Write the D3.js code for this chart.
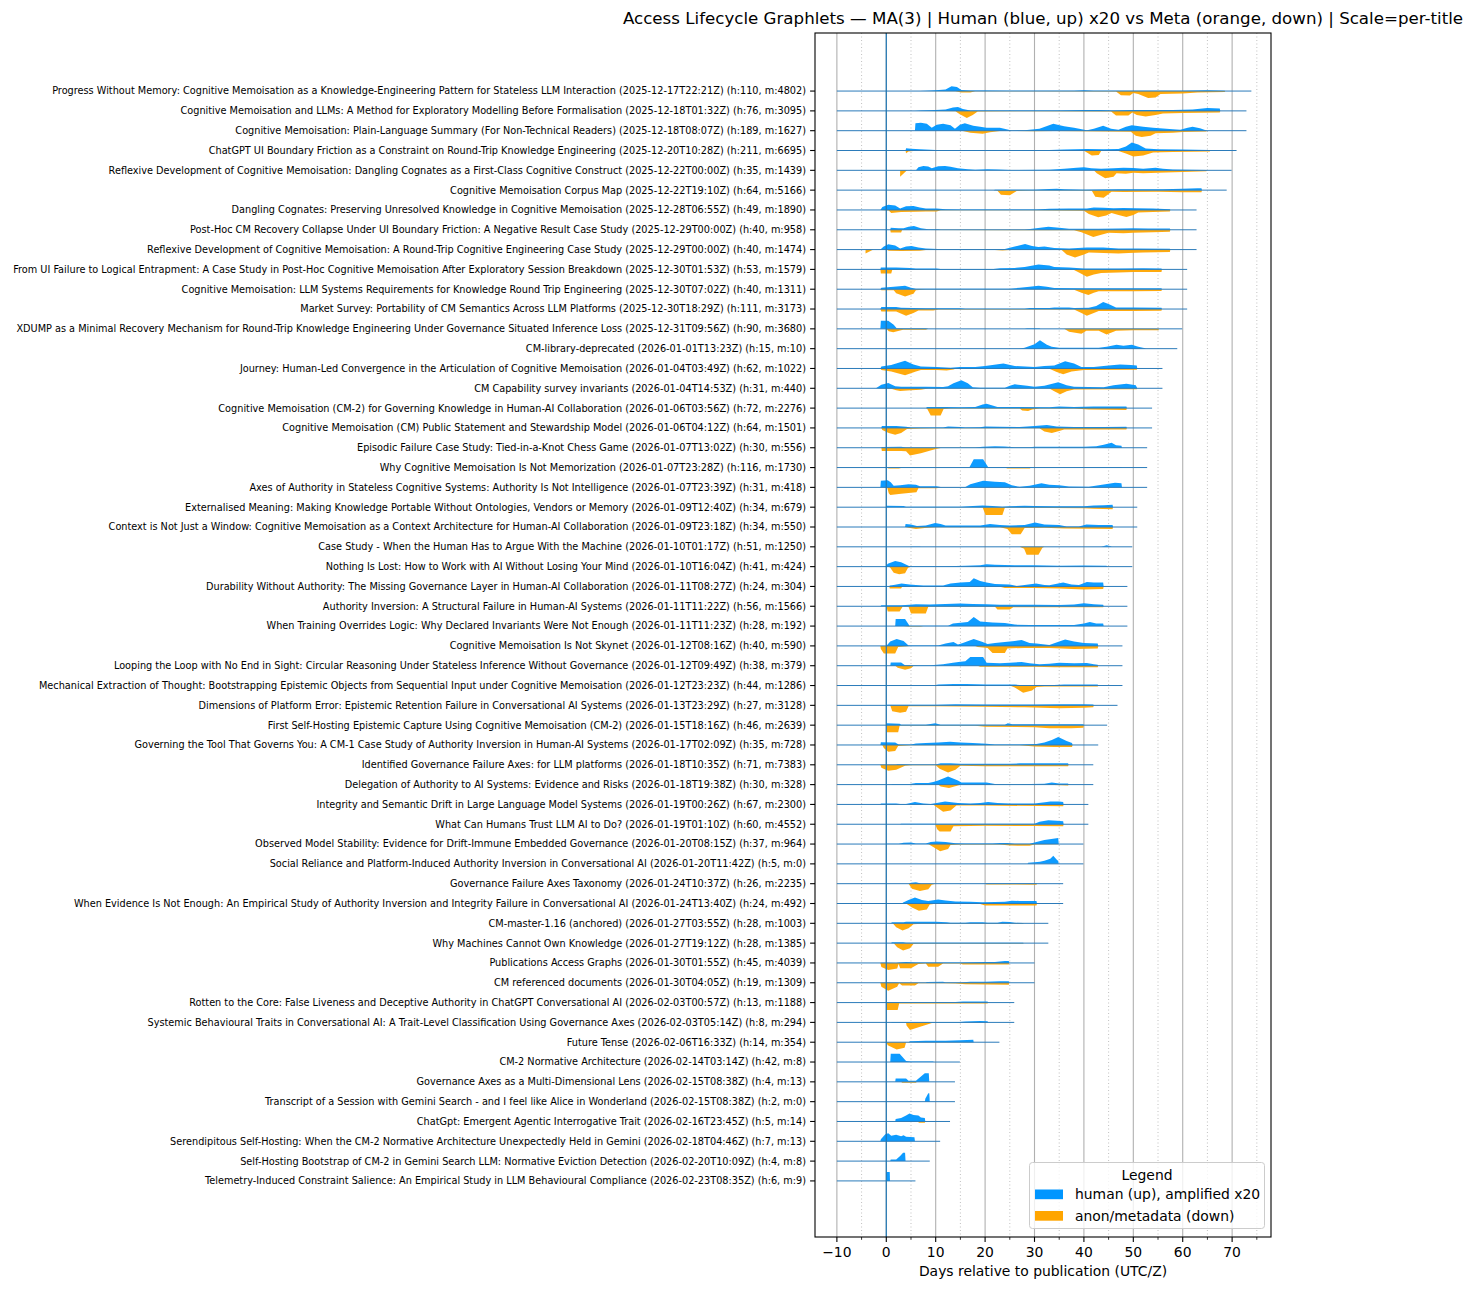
<!DOCTYPE html>
<html><head><meta charset="utf-8">
<script src="https://cdn.jsdelivr.net/npm/d3@7"></script>
<style>
body{margin:0;background:#fff}
svg{display:block}
text{font-family:"DejaVu Sans",sans-serif;fill:#000}
</style>
</head><body>
<svg id="c" width="1472" height="1289"></svg>
<script>
const chartTitle = "Access Lifecycle Graphlets — MA(3) | Human (blue, up) x20 vs Meta (orange, down) | Scale=per-title";
const xLabel = "Days relative to publication (UTC/Z)";
const legendTitle = "Legend";
const seriesNames = ["human (up), amplified x20", "anon/metadata (down)"];
const seriesColors = ["#0096ff", "#ffa500"];
const xTicks = [-10, 0, 10, 20, 30, 40, 50, 60, 70];
const xMinorTicks = [-5, 5, 15, 25, 35, 45, 55, 65, 75];

const titles = [
"Progress Without Memory: Cognitive Memoisation as a Knowledge-Engineering Pattern for Stateless LLM Interaction (2025-12-17T22:21Z) (h:110, m:4802)",
"Cognitive Memoisation and LLMs: A Method for Exploratory Modelling Before Formalisation (2025-12-18T01:32Z) (h:76, m:3095)",
"Cognitive Memoisation: Plain-Language Summary (For Non-Technical Readers) (2025-12-18T08:07Z) (h:189, m:1627)",
"ChatGPT UI Boundary Friction as a Constraint on Round-Trip Knowledge Engineering (2025-12-20T10:28Z) (h:211, m:6695)",
"Reflexive Development of Cognitive Memoisation: Dangling Cognates as a First-Class Cognitive Construct (2025-12-22T00:00Z) (h:35, m:1439)",
"Cognitive Memoisation Corpus Map (2025-12-22T19:10Z) (h:64, m:5166)",
"Dangling Cognates: Preserving Unresolved Knowledge in Cognitive Memoisation (2025-12-28T06:55Z) (h:49, m:1890)",
"Post-Hoc CM Recovery Collapse Under UI Boundary Friction: A Negative Result Case Study (2025-12-29T00:00Z) (h:40, m:958)",
"Reflexive Development of Cognitive Memoisation: A Round-Trip Cognitive Engineering Case Study (2025-12-29T00:00Z) (h:40, m:1474)",
"From UI Failure to Logical Entrapment: A Case Study in Post-Hoc Cognitive Memoisation After Exploratory Session Breakdown (2025-12-30T01:53Z) (h:53, m:1579)",
"Cognitive Memoisation: LLM Systems Requirements for Knowledge Round Trip Engineering (2025-12-30T07:02Z) (h:40, m:1311)",
"Market Survey: Portability of CM Semantics Across LLM Platforms (2025-12-30T18:29Z) (h:111, m:3173)",
"XDUMP as a Minimal Recovery Mechanism for Round-Trip Knowledge Engineering Under Governance Situated Inference Loss (2025-12-31T09:56Z) (h:90, m:3680)",
"CM-library-deprecated (2026-01-01T13:23Z) (h:15, m:10)",
"Journey: Human-Led Convergence in the Articulation of Cognitive Memoisation (2026-01-04T03:49Z) (h:62, m:1022)",
"CM Capability survey invariants (2026-01-04T14:53Z) (h:31, m:440)",
"Cognitive Memoisation (CM-2) for Governing Knowledge in Human-AI Collaboration (2026-01-06T03:56Z) (h:72, m:2276)",
"Cognitive Memoisation (CM) Public Statement and Stewardship Model (2026-01-06T04:12Z) (h:64, m:1501)",
"Episodic Failure Case Study: Tied-in-a-Knot Chess Game (2026-01-07T13:02Z) (h:30, m:556)",
"Why Cognitive Memoisation Is Not Memorization (2026-01-07T23:28Z) (h:116, m:1730)",
"Axes of Authority in Stateless Cognitive Systems: Authority Is Not Intelligence (2026-01-07T23:39Z) (h:31, m:418)",
"Externalised Meaning: Making Knowledge Portable Without Ontologies, Vendors or Memory (2026-01-09T12:40Z) (h:34, m:679)",
"Context is Not Just a Window: Cognitive Memoisation as a Context Architecture for Human-AI Collaboration (2026-01-09T23:18Z) (h:34, m:550)",
"Case Study - When the Human Has to Argue With the Machine (2026-01-10T01:17Z) (h:51, m:1250)",
"Nothing Is Lost: How to Work with AI Without Losing Your Mind (2026-01-10T16:04Z) (h:41, m:424)",
"Durability Without Authority: The Missing Governance Layer in Human-AI Collaboration (2026-01-11T08:27Z) (h:24, m:304)",
"Authority Inversion: A Structural Failure in Human-AI Systems (2026-01-11T11:22Z) (h:56, m:1566)",
"When Training Overrides Logic: Why Declared Invariants Were Not Enough (2026-01-11T11:23Z) (h:28, m:192)",
"Cognitive Memoisation Is Not Skynet (2026-01-12T08:16Z) (h:40, m:590)",
"Looping the Loop with No End in Sight: Circular Reasoning Under Stateless Inference Without Governance (2026-01-12T09:49Z) (h:38, m:379)",
"Mechanical Extraction of Thought: Bootstrapping Epistemic Objects from Sequential Input under Cognitive Memoisation (2026-01-12T23:23Z) (h:44, m:1286)",
"Dimensions of Platform Error: Epistemic Retention Failure in Conversational AI Systems (2026-01-13T23:29Z) (h:27, m:3128)",
"First Self-Hosting Epistemic Capture Using Cognitive Memoisation (CM-2) (2026-01-15T18:16Z) (h:46, m:2639)",
"Governing the Tool That Governs You: A CM-1 Case Study of Authority Inversion in Human-AI Systems (2026-01-17T02:09Z) (h:35, m:728)",
"Identified Governance Failure Axes: for LLM platforms (2026-01-18T10:35Z) (h:71, m:7383)",
"Delegation of Authority to AI Systems: Evidence and Risks (2026-01-18T19:38Z) (h:30, m:328)",
"Integrity and Semantic Drift in Large Language Model Systems (2026-01-19T00:26Z) (h:67, m:2300)",
"What Can Humans Trust LLM AI to Do? (2026-01-19T01:10Z) (h:60, m:4552)",
"Observed Model Stability: Evidence for Drift-Immune Embedded Governance (2026-01-20T08:15Z) (h:37, m:964)",
"Social Reliance and Platform-Induced Authority Inversion in Conversational AI (2026-01-20T11:42Z) (h:5, m:0)",
"Governance Failure Axes Taxonomy (2026-01-24T10:37Z) (h:26, m:2235)",
"When Evidence Is Not Enough: An Empirical Study of Authority Inversion and Integrity Failure in Conversational AI (2026-01-24T13:40Z) (h:24, m:492)",
"CM-master-1.16 (anchored) (2026-01-27T03:55Z) (h:28, m:1003)",
"Why Machines Cannot Own Knowledge (2026-01-27T19:12Z) (h:28, m:1385)",
"Publications Access Graphs (2026-01-30T01:55Z) (h:45, m:4039)",
"CM referenced documents (2026-01-30T04:05Z) (h:19, m:1309)",
"Rotten to the Core: False Liveness and Deceptive Authority in ChatGPT Conversational AI (2026-02-03T00:57Z) (h:13, m:1188)",
"Systemic Behavioural Traits in Conversational AI: A Trait-Level Classification Using Governance Axes (2026-02-03T05:14Z) (h:8, m:294)",
"Future Tense (2026-02-06T16:33Z) (h:14, m:354)",
"CM-2 Normative Architecture (2026-02-14T03:14Z) (h:42, m:8)",
"Governance Axes as a Multi-Dimensional Lens (2026-02-15T08:38Z) (h:4, m:13)",
"Transcript of a Session with Gemini Search - and I feel like Alice in Wonderland (2026-02-15T08:38Z) (h:2, m:0)",
"ChatGpt: Emergent Agentic Interrogative Trait (2026-02-16T23:45Z) (h:5, m:14)",
"Serendipitous Self-Hosting: When the CM-2 Normative Architecture Unexpectedly Held in Gemini (2026-02-18T04:46Z) (h:7, m:13)",
"Self-Hosting Bootstrap of CM-2 in Gemini Search LLM: Normative Eviction Detection (2026-02-20T10:09Z) (h:4, m:8)",
"Telemetry-Induced Constraint Salience: An Empirical Study in LLM Behavioural Compliance (2026-02-23T08:35Z) (h:6, m:9)"
];

const lineStart = -10;
const lineEnd = [73.9,72.9,72.9,70.9,69.9,68.9,62.8,62.8,62.8,60.9,60.9,60.9,59.9,58.9,55.9,55.9,53.8,53.8,52.8,52.8,52.8,50.8,50.8,49.8,49.8,48.8,48.8,48.8,47.8,47.8,47.8,46.8,44.7,42.9,41.9,41.9,40.9,40.9,39.9,39.9,35.8,35.8,32.8,32.8,30,30,25.9,25.9,22.9,14.9,13.9,13.9,12.9,10.9,8.8,5.9];

// human (up) smoothed level per title, [day, level]
const human = [
[[6.8,0],[8,0.3],[10,0.8],[12,1.5],[13.2,4.8],[14.3,4],[15.2,1],[17,0.5],[20,0.6],[25,0.3],[30,0.3],[38,0.4],[40,0.8],[42,0.4],[50,0.3],[60,0.4],[65,0.8],[68.5,0.3],[68.6,0]],
[[5.8,0],[7,0.5],[10,1],[12,1.5],[13.5,3.5],[14.5,4],[15.5,2],[17,0.5],[25,0.4],[35,0.3],[40,0.8],[43,1],[46,0.5],[50,0.8],[54,1],[58,0.8],[62,1.5],[65,3],[67.5,2.5],[67.6,0]],
[[5.8,0],[5.9,7.5],[7,8],[8.2,7],[9.2,3],[10.2,6],[11.5,7],[13,5.5],[13.9,2],[14.9,6],[15.9,7.5],[17.6,5],[19,4],[20.3,3],[23,3],[25.4,0.3],[28,0.5],[31,2],[33.8,7],[36,4.5],[38,3],[40.6,0.5],[42,2],[43.9,5],[45.5,2],[47,1],[48.5,4],[49.7,5.5],[52,4],[54,3],[56,2.2],[58,1.5],[59.5,1],[61,3],[62,4],[63.5,2.5],[64.8,0.3],[64.9,0]],
[[3.9,0],[4,2.3],[5,1.8],[6.8,1.2],[10,0.5],[20,0.3],[25,0.5],[33,0.5],[36,1],[40.6,1.5],[44,1.3],[47,1.5],[48.5,4],[49.7,8],[51,6],[52.5,2],[55,1.2],[60,1],[65.5,0.6],[65.6,0]],
[[6,0],[6.5,3],[7.5,4.3],[8.5,3.8],[9.2,2],[10.5,4],[11.9,4.3],[13,3.5],[14.5,2],[16.5,1],[18,0.6],[20.5,1],[22.5,0.8],[25,0.4],[33,0.5],[36,1.5],[38.5,2.5],[40,3],[41.5,2],[43.5,1.5],[46,2],[48,2.5],[50,2.3],[52,1.5],[54.5,2.5],[56,1.5],[58,0.7],[64.8,0.3],[64.9,0]],
[[21.7,0],[22,0.3],[30,0.5],[33,1.2],[34.5,1.5],[36,0.8],[40,0.3],[47,0.8],[52,1],[56,1],[60,1.5],[63,2],[63.8,2],[63.9,0]],
[[-1.2,0],[-0.8,3],[0.4,5.3],[1.8,4.5],[2.8,1.5],[4,3.8],[5.5,4],[6.8,2.5],[8,1.5],[10.2,1.5],[12,0.8],[15,0.5],[25,0.5],[30.4,0.5],[33,1.3],[37,1.5],[40.6,1.5],[42,2.5],[44,2.2],[46,1.8],[48,2],[50.7,1.8],[54,1.5],[57.4,0.8],[57.5,0]],
[[0.8,0],[0.9,2],[2.5,1.5],[3.5,1.5],[4.5,3],[5.6,3.7],[7,1.5],[8.5,0.6],[10.5,0.5],[11,0],[28,0],[29.5,1],[32.8,3],[35,2],[37,1],[43,1],[47,1.2],[50,1.5],[53,1.2],[57.4,1.2],[57.5,0]],
[[-1.2,0],[-0.5,3],[0.4,5.3],[1.8,4],[2.8,1.2],[4,3],[5.1,3.5],[6.5,2],[8,1],[10.5,0.5],[12,0.3],[16,0.6],[18,0.3],[24,0.5],[26,3],[28.1,5.7],[29.5,3.5],[30.8,2.5],[32,3],[34,1.5],[37,1],[40.6,2],[43.9,2],[47,1.2],[50.7,1],[57.4,0.8],[57.5,0]],
[[-1.2,0],[-1.1,1.8],[2,2],[4.8,1.5],[6,1],[10.2,1],[11,0.3],[21.7,0.3],[23,1.2],[26,1.5],[28,2.5],[30.8,5],[33,4],[34,2.5],[37,2],[40,1],[47,1],[52,1.2],[55.7,1],[55.8,0]],
[[-1.2,0],[-1,1.5],[1.5,2.5],[3.8,3.5],[5,1.5],[6,0.5],[15,0.5],[25,0.5],[27,1.5],[29,2.5],[30.8,3.5],[32.5,2.5],[34,1.2],[40,1],[50,1],[55.7,1],[55.8,0]],
[[-1.2,0],[-1,2],[2,2],[3,1.2],[8,0.8],[15,0.8],[16,0.3],[28,0.3],[29,1],[33,1],[34,1.5],[37,1.5],[38,1],[41,1.2],[42.5,3],[43.9,7],[45,5],[46.5,1.5],[50,1.5],[55.7,1.2],[55.8,0]],
[[-1.2,0],[-1.1,8],[0.4,8],[1.5,4],[2.1,0.5],[8,0.5],[8.5,0],[28,0],[28.5,0.5],[31,0.5],[31.2,0]],
[[26.9,0],[28,1],[30,4.5],[31.1,8.5],[32.5,4],[33.5,2],[35,1],[40,1],[43,0.8],[44.6,2],[46.6,4],[48,3],[49.7,4],[51,2],[52.4,0.3],[52.5,0]],
[[-1.2,0],[-1,2],[1,3.5],[3.8,7.7],[5.5,4],[7,2],[10.2,1.5],[13,0.8],[14.9,1.5],[18,1.5],[20,2.5],[23.7,5],[26,2.5],[30,1.5],[32,2.5],[34,3],[36.2,7.3],[38,5],[39.5,1.5],[42,1.5],[45,3],[47.3,4],[49.5,3.5],[50.7,3],[50.8,0]],
[[-2.1,0],[-1,3.5],[0.4,5.3],[1.8,2],[3,1.5],[8,1.5],[11.5,1.2],[12.5,2],[13.6,5],[15.2,8],[16.5,5],[17.5,1],[19,0.5],[24,0.5],[25,2.5],[26,4],[28.5,2.5],[30,1.5],[32,2.5],[34.8,6],[36.5,3],[38,1.5],[44,1],[46,3],[48.6,4.5],[50.5,3],[50.8,0]],
[[8,0],[8.3,1],[12,1],[15,0.8],[18,1.2],[19.5,3.5],[20.3,4.3],[21.5,2.5],[22.5,1],[27,1],[33,0.8],[35,1.5],[38,1],[42,1.5],[48.6,1.5],[48.7,0]],
[[-1,0],[-0.9,2],[2,2],[4,1.2],[5,0.5],[11.5,0.5],[12.5,1.5],[15,1],[16,0.5],[19,0.6],[20,1.5],[23,1.2],[27,1],[30,2],[32.5,3],[34.5,1.5],[38,1],[44,1],[48.6,1.2],[48.7,0]],
[[-1,0],[-0.9,0.8],[3,1],[4,0.3],[18,0.3],[19.5,1],[22,1.5],[24,1.2],[26,0.5],[29,0.5],[30,1],[40,1],[42.5,1.5],[44,3],[45.6,5],[46.5,2.5],[47.6,2],[47.7,0]],
[[0,0],[1,0.5],[6.8,0.5],[7,0],[16.8,0],[17.7,8.3],[19.6,8.3],[20.6,0.5],[30,0.5],[33,0.3],[43,0.5],[47.6,0.5],[47.7,0]],
[[-1.2,0],[-1.1,6.5],[0.3,7],[0.9,5],[1.5,1.5],[2.8,2],[4.5,3],[6,2.5],[6.8,1],[10.2,1],[11,0.3],[16,0.3],[17,3],[19.6,6.7],[22,5.5],[24,5],[25.4,2],[27,0.5],[29,1.5],[31.4,4.2],[33,2.5],[35,2],[37,0.8],[41,0.5],[43,2],[46.3,4.7],[47.6,4],[47.7,0]],
[[0,0],[0.1,1.5],[3.5,1.3],[4,0.5],[15,0.5],[17.5,1.2],[19.5,1.7],[21.5,1.2],[23.5,0.5],[25,1],[28,1.5],[30,1.2],[34,1],[40,1],[42,1.8],[44,2],[45.8,2.5],[45.9,0]],
[[3.8,0],[3.9,3],[5,2.5],[6.2,1],[8,1.5],[9.9,4],[11,3],[12,1.5],[19,1.5],[21,3],[23,2],[25,1.5],[28,2],[30.1,4.5],[32,2.5],[35,2],[36.5,0.5],[39,0.5],[40.5,2.5],[43,2],[45.8,2],[45.9,0]],
[[4.8,0],[5,0.3],[6.8,0.3],[7,0],[43.5,0],[44.6,1.5],[45.5,0.5],[45.6,0]],
[[-0.2,0],[0.3,3],[1.8,5.7],[3,4.5],[4.7,0.5],[8,0.3],[12,0.5],[16,1],[19,1.5],[20.3,2.5],[22,1.8],[26,1.5],[30,1.5],[35,1],[40,1.2],[44.6,1],[44.7,0]],
[[0.6,0],[0.7,1],[1.5,1.5],[3.1,3],[4.7,2],[6,1.5],[7.5,1],[11.5,1],[13,3],[15,4],[16.9,4.5],[17.7,8.3],[19,5.5],[20.3,4],[22,2.5],[25,2],[26.4,0.5],[28,1.5],[30.3,3],[32,1.5],[33,1.2],[35.8,4],[37.5,2],[39,1.5],[40.6,4.5],[42,4],[43.9,4],[44,0]],
[[-1.2,0],[-1,1],[3,1],[4.7,1.5],[6,2],[8.8,1.8],[12,2.2],[14.9,2.8],[17.5,2.3],[20.3,2],[23,1.5],[27,1.5],[30,1.5],[35,1.2],[38,1.8],[40,3],[42,2],[43.9,1.5],[44,0]],
[[1.8,0],[1.9,7],[3.8,7],[4.7,0.3],[12.5,0.3],[13.5,2.5],[15.5,3.5],[16.5,4],[17.7,9],[19,4.5],[21.5,3.5],[24,3],[26,1.5],[29,1],[38,1],[40,2.5],[41.2,4],[42.5,2.5],[43.9,2.5],[44,0]],
[[0,0],[0.8,4.5],[2.1,7],[3.5,5],[4.5,0.5],[10.5,0.5],[12,2.5],[13.6,4],[14.5,1.5],[15.5,3],[17.7,7],[19.5,4],[20.5,2],[22,3],[24,4],[26,5],[27.4,6],[29,3],[30.4,2.5],[33,1],[35,4.5],[36.2,6.3],[38,4.5],[40,3],[42.8,2.5],[42.9,0]],
[[0.8,0],[0.9,3.3],[3,3.3],[3.5,1.5],[3.8,0.5],[9,0.5],[11.5,1.5],[13.5,3],[15,4],[16,4.5],[17,8.7],[19.6,8.7],[20.3,3],[23,2.5],[25,3],[27.4,3.8],[29,2.5],[31,1.5],[33,2],[35,3],[38,2.5],[40.6,2.8],[42,1.5],[42.8,1],[42.9,0]],
[[0.8,0],[1,0.5],[3.4,0.5],[3.5,0],[9.5,0],[10.5,1],[13.6,1.5],[16.2,1.5],[20.3,1],[26,1],[27,0.5],[34,0.5],[36,1],[42.8,1],[42.9,0]],
[[0,0],[0.2,0.5],[10,0.5],[14,1],[20,0.8],[30,0.8],[35,1],[40,1.2],[41.9,0.8],[42,0]],
[[0,0],[0.1,2],[2.7,1.5],[3,0.3],[8,0.3],[9.9,2],[11,0.5],[24,0.5],[24.6,2],[25.5,0.8],[35,1],[39.9,1],[40,0]],
[[-1.2,0],[-1.1,2.7],[1.8,2.5],[2.5,0.5],[5,0.5],[6,1.5],[8,2],[10.5,2.5],[12.9,3.3],[15,2.5],[17.5,2],[20.3,1.2],[22,0.5],[27,0.5],[30.4,1],[32,2.5],[33.5,5],[34.8,8],[36.5,4],[37.6,2],[37.7,0]],
[[2,0],[2.2,0.5],[4,0.5],[5,0.3],[10,0.3],[11,1.5],[13,1.5],[15,1],[25,1],[27,1.5],[36.8,1.5],[36.9,0]],
[[1,0],[1.2,0.5],[4.7,0.5],[6,1.5],[8.5,1.5],[9.5,2.5],[10.5,4],[12.5,8],[14.5,4],[15.2,2],[17,2],[20.3,2],[22,0.5],[25,0.3],[32,0.8],[33.5,2],[35,1],[36.8,1],[36.9,0]],
[[-1.2,0],[-1.1,1],[2,1],[2.8,0.5],[4,0.5],[5.8,2.5],[7.5,1],[9,0.5],[10.2,1.5],[11.9,3],[14.5,1.5],[17,1],[19,1.5],[20.6,2.5],[22.5,1.5],[25,1],[30,1],[32.5,2.5],[33.2,3],[35,2.8],[35.8,2.5],[35.9,0]],
[[2.7,0],[3,0.5],[30,0.5],[31,2.5],[32.8,4],[34.5,3.5],[35.8,3],[35.9,0]],
[[0,0],[0.2,0.3],[2.5,0.3],[3.5,1.2],[5,1.5],[6,0.5],[8,0.5],[9,2],[10.2,2.5],[12,2],[14,0.8],[16,0.5],[21.5,0.5],[23,1],[24.5,1],[26,0.3],[29,0.3],[30,1.5],[32,4],[34.8,6],[34.9,0]],
[[28.6,0],[28.7,1],[30,1.5],[31.1,2],[32,3],[33.2,5],[33.8,8],[34.6,3.5],[34.8,3],[34.9,0]],
[[4.5,0],[5,1],[6,1.5],[6.8,0.5],[7,0],[20,0],[20.3,0.5],[30.4,0.5],[30.5,0]],
[[3.2,0],[3.4,1],[4.5,3.5],[5.8,6],[7.2,3.5],[8.5,2.5],[10.5,4],[12,3],[14,2],[17,1.8],[19.5,1.2],[22,1.5],[24,1.8],[25.4,2.8],[27,2.5],[30.4,2.5],[30.5,0]],
[[1,0],[1.1,1],[3.5,1],[4,1.5],[8,1.5],[10,1.5],[12.2,1],[13,0.5],[16,0.5],[17,1],[19.5,1],[20.5,0.5],[22.5,0.5],[23.5,1.5],[25,1.2],[26,0.5],[27.7,0.3],[27.8,0]],
[[1,0],[1.1,1],[3.4,1],[4,0.5],[27.7,0.5],[27.8,0]],
[[-1.2,0],[-1.1,0.3],[0,0.3],[2,0],[2.7,0.5],[4,1],[6,0.5],[15,0.5],[20,1],[22,1],[23,1.5],[24,2],[24.8,2],[24.9,0]],
[[0,0],[0.2,0.3],[2,0.3],[2.5,0],[8,0],[8.2,0.8],[11.5,1],[12,0.3],[15,0.3],[17,1],[20,1],[23,1.5],[24.8,1.5],[24.9,0]],
[[0,0],[0.1,0.5],[14,0.5],[15.5,1],[20.5,1],[20.6,0]],
[[1,0],[1.1,0.5],[14.8,0.5],[16,1],[19,1.5],[20.5,1.2],[20.6,0]],
[[-1.2,0],[-1,0.3],[0,0.3],[0.5,0],[4.5,0],[4.8,1],[8,1.5],[12,1.5],[15,2],[17.6,2.5],[17.7,0]],
[[0.8,0],[0.9,8.3],[2.7,8.3],[4,1],[5,0.5],[9.5,0.5],[9.6,0]],
[[1.8,0],[1.9,3.3],[4,3.3],[4.5,1],[6,1],[7.8,8.7],[8.6,8.7],[8.7,0]],
[[7.8,0],[7.9,3],[8.5,8.3],[8.7,8.3],[8.8,0]],
[[1.8,0],[1.9,2.5],[3,3.5],[4,6],[4.7,8],[5.5,6.5],[6.5,6],[7,4],[7.8,3.5],[7.9,0]],
[[-1.2,0],[-1.1,2],[-0.2,7],[0.4,8],[1,5.5],[2,6.5],[3,5],[3.5,6],[4,4.5],[5.7,4],[5.8,0]],
[[0.8,0],[0.9,1.5],[2,1.5],[2.8,5],[3.4,8.3],[3.8,8.3],[3.9,0]],
[[0,0],[0.05,9],[0.7,9],[0.75,0]]
];

// anon/metadata (down) smoothed level per title, [day, level]
const meta = [
[[6.8,0],[14,0.2],[15.2,1.5],[17,1.5],[18,0.2],[30,0.3],[46.5,0.5],[47.5,4.3],[49.3,4.5],[50,2],[51,3],[53,7],[54.5,6.5],[55.5,3],[60,2.5],[63,1.5],[68.5,1],[68.6,0]],
[[5.8,0],[14,0.3],[14.8,3],[16.3,7],[17.5,4],[18.5,0.5],[30,0.3],[45.5,0.5],[46.5,4.5],[49,4.5],[49.8,1.5],[50.7,4],[52.5,5.5],[54.5,4],[56,2.5],[60,2],[67.5,1.5],[67.6,0]],
[[5.9,0],[15.5,0.3],[17,2],[19.5,3],[21,1.5],[23,0.3],[30,0.5],[34,0.3],[49.5,1],[50.5,5],[51.7,6.3],[53.5,5],[54.5,2.5],[58,2],[60,1.2],[64.8,0.8],[64.9,0]],
[[3.9,0],[4,2.7],[4.5,1],[6,0.3],[20,0.2],[40,0.3],[40.6,2],[41.6,5],[43,4.5],[43.5,0.5],[47,0.5],[48.5,3],[50,6],[52,5],[54,2],[58,1.5],[65.5,1],[65.6,0]],
[[2.8,0],[2.8,6.5],[4.2,0],[42,0],[42.6,3],[44.3,8],[46,6.5],[46.6,3],[48.5,3.5],[50,2.5],[52,3],[55,2.5],[60,1.7],[64.8,1],[64.9,0]],
[[21.7,0],[22.5,0.5],[23.2,4.5],[25,5],[26.4,0.8],[30,0.3],[41.6,0.5],[42.3,6.5],[44,7.7],[45.6,1.5],[48,1.8],[55,1.7],[60,2],[63.8,2],[63.9,0]],
[[-1.2,0],[0.5,0.5],[1,3],[3,2],[6,1.8],[8,1.5],[10.2,1.5],[11,0.3],[30,0.3],[40,0.8],[41,4],[42.9,7.3],[44.5,5.5],[45.6,3],[47,5],[48.6,7],[50,5],[51,2.5],[54,2],[57.4,1.5],[57.5,0]],
[[0.8,0],[0.9,2.7],[3,2.7],[3.2,0.3],[7,0.3],[38,0.5],[39.5,2.5],[41.9,7.3],[43.5,5],[45,3],[48,3.5],[50,3],[54,2.5],[57.4,2],[57.5,0]],
[[-4.2,0],[-4.2,4],[-2.6,0],[0,0],[0.5,1.2],[3,1.5],[6.8,1.2],[8,0.3],[22,0.3],[23.5,1],[25,0.5],[35.5,0.5],[36.5,5],[38.2,8],[40,5],[41,3],[44,3.5],[47,4],[49,3.5],[52,3],[57.4,2.5],[57.5,0]],
[[-1.2,0],[-1.1,4],[1,4],[1.2,0.5],[10,0.3],[38,0.5],[39,3],[40.6,7.3],[42,5],[43.5,3.5],[47,3],[50,2.5],[55.7,2.5],[55.8,0]],
[[-1.2,0],[-1,1],[1.5,1],[2,4],[3.8,7.3],[5.5,4.5],[6,1],[8,0.3],[30,0.3],[38,0.5],[39.5,3.5],[40.9,5.7],[42,3.5],[43,2],[50,2],[55.7,1.7],[55.8,0]],
[[-1.2,0],[-1,2.5],[2,2.5],[4,6.7],[5.5,4],[6.5,1.5],[9.5,1.5],[10.5,0.5],[38,0.5],[39.5,4],[40.6,6.7],[42,4],[43,2],[50,2],[55.7,1.8],[55.8,0]],
[[0,0],[0.5,2.5],[1.4,3.3],[3.4,1],[8,1],[8.5,0],[36,0],[37,3],[39.5,5],[40.5,2],[43,2],[44.6,5.7],[46.5,2],[50,1.5],[55.1,1.5],[55.2,0]],
[],
[[-1.2,0],[-1,1.5],[1,3],[3.8,6.7],[6,3],[7,1.5],[10.2,1.5],[12.2,2],[13.6,1],[14,0.3],[33,0.3],[34.5,3.5],[35.8,5.7],[37.5,3],[40,1.5],[50.7,1.3],[50.8,0]],
[[-2.1,0],[1,0.5],[2,2],[2.8,2.7],[5,2],[7,1.5],[8.5,0.3],[33,0.3],[34,3],[35.2,6],[36.5,3],[38,1.2],[50.7,1],[50.8,0]],
[[8,0],[8.3,1],[9,7.3],[11,7.3],[11.6,1],[13,0.5],[27,0.5],[27.5,2.5],[28.7,3],[29.5,1.5],[31,0.5],[38,0.5],[41,1.5],[48.6,2],[48.7,0]],
[[-1,0],[-0.8,2],[0.5,5],[1.8,6.7],[3,5],[4.2,1],[7,0.5],[10,0.3],[31,0.3],[32,3.5],[33.5,5],[35,3],[36,1.5],[48.6,1.5],[48.7,0]],
[[-1,0],[-0.9,3.3],[3,3.3],[4,3.5],[4.8,7.7],[7,5.5],[10.2,1],[11,0.2],[47.6,0.2],[47.7,0]],
[[0,0],[0.5,1],[2.5,1],[3,0.5],[6.8,0.4],[7,0],[24,0],[24.5,1],[29,1],[29.5,0]],
[[-1.2,0],[0.2,0.5],[0.5,6],[0.8,7.7],[3,6.5],[5,5.5],[6.1,4.8],[6.5,0.8],[10.2,1],[11,0.2],[16,0.2],[47.6,0.2],[47.7,0]],
[[0,0],[19.5,0.3],[20.1,7.7],[23.5,7.7],[24,0.5],[40,1],[42,1.5],[45.8,2],[45.9,0]],
[[3.8,0],[4.8,1],[6,2],[7.8,1],[10,0.3],[23,0.3],[24.5,2],[25.4,7.3],[27.2,7.3],[28,1],[32,0.8],[36,1.5],[45.8,2],[45.9,0]],
[[27,0],[27.9,2],[28.4,8],[30.8,8],[31.6,1],[32,0]],
[[0.5,0],[0.8,1],[1.5,6],[2.6,7.7],[3.8,6.5],[4.4,1],[5,0]],
[[0.6,0],[0.7,2],[3,2],[3.2,0.3],[23,0.3],[24,1.5],[30,1.5],[35,2],[40,3],[43.9,2.5],[44,0]],
[[0,0],[0.3,5.3],[2.7,5.3],[3.3,0.5],[4.5,0.5],[5,7.3],[8,7.3],[8.5,0.5],[22,0.5],[22.5,3.3],[25,3.3],[25.7,1],[30,1],[43.9,1],[44,0]],
[[3.5,0],[4.5,0.5],[7,0.5],[7.5,0]],
[[-1.2,0],[-1.1,3],[-0.5,7.7],[1.8,7.7],[2.4,1],[4.7,0],[18,0],[18.5,1],[20.5,2],[21.5,7],[24,7],[24.5,2.5],[28,2],[33,2],[38,3],[42.8,2.5],[42.9,0]],
[[1.8,0],[2.3,2],[3.8,4],[5,2.5],[5.5,0.3],[7,0],[18.5,0],[19,1],[30,1],[34,1.5],[42.8,1.5],[42.9,0]],
[[25,0],[26,2],[27.7,7.3],[29.5,5],[30.4,1.5],[32,1],[42.8,1],[42.9,0]],
[[0.8,0],[1.2,6],[2.8,7.3],[4,6.5],[4.5,1],[10,1],[20,1.5],[28,2],[35,2.8],[40,2.5],[41.9,2],[42,0]],
[[0,0],[0.1,7],[2.4,7],[2.7,0.5],[18,0.5],[20,1.5],[30,2],[33,3],[37.5,3],[39.9,2.5],[40,0]],
[[-0.8,0],[-0.5,3],[0.4,6.7],[1.8,6],[2.4,1],[5,0.3],[27,0.3],[30,1.5],[34,2],[37.6,2],[37.7,0]],
[[-1.2,0],[-1,3],[0.4,6],[2,5],[3.8,1],[5,0.5],[10,0.5],[10.8,4],[12.5,7.7],[14,5],[15,1],[20,1.5],[36.8,1.5],[36.9,0]],
[[10.5,0],[11,2],[12.7,3.3],[14.5,1],[15,0.2],[27,0.2],[27.5,0.5],[29.5,0.5],[30,0.2],[34,0.3],[36.8,1],[36.9,0]],
[[9.5,0],[10,2],[11.5,7.3],[13,6],[14.2,1],[20,1.2],[35.8,1.8],[35.9,0]],
[[9.9,0],[10.3,5],[10.8,7.3],[13,7.3],[13.6,2],[20,1.5],[30,1.8],[35.8,2],[35.9,0]],
[[8.5,0],[9.5,3],[10.9,7.3],[12.5,5],[13,1],[15,0.5],[23,0.5],[25,1.5],[29,1.8],[30,0.5],[34.8,0.3],[34.9,0]],
[],
[[4.5,0],[5.2,5],[6.8,7.3],[8.5,5.5],[9.2,1],[10,0],[20,0],[20.3,0.8],[30.4,1],[30.5,0]],
[[4,0],[5.2,4],[6.6,7.3],[8.2,6],[8.8,1],[10,0.3],[19,0.5],[20,2],[30.4,2],[30.5,0]],
[[1.3,0],[2,4],[3.3,7.3],[4.5,5],[5.5,1],[7,0.5],[27.7,0.5],[27.8,0]],
[[1.5,0],[2.2,4],[3.4,7.3],[4.8,5],[5.5,0.8],[7,0.5],[27.7,0.5],[27.8,0]],
[[-1.2,0],[-1,4],[0.4,7],[2.2,5.5],[2.5,1],[2.8,5.3],[5,5.3],[6.5,1],[8,0.5],[8.5,3.7],[10.5,3.7],[11.5,0.5],[14.9,0.5],[15.5,1.5],[24.8,1.5],[24.9,0]],
[[-1.2,0],[-1,4],[0.4,8],[2.2,4],[2.6,0.5],[3.2,2.7],[5.8,2.7],[6.5,0.5],[8,0.5],[11.5,0.5],[14,0.8],[16,1.5],[24.8,2],[24.9,0]],
[[0,0],[0.1,7.3],[2.3,7.3],[2.6,1],[10,1],[20.5,1],[20.6,0]],
[[4,0],[4.1,3],[4.8,7.7],[9.4,0.3],[20.5,0.3],[20.6,0]],
[[0,0],[0.3,3],[2.1,7.3],[3.7,5.5],[4,0.3],[17.6,0.3],[17.7,0]],
[],
[[3,0],[3.2,1],[6,1],[6.2,0]],
[],
[[6.4,0],[6.6,1.3],[7.8,1.3],[7.9,0]],
[],
[],
[]
];

const svg = d3.select("#c");
const W = 1472, H = 1289;
const P = {l: 815, r: 1271, t: 33, b: 1237};

const x = d3.scaleLinear().domain([-14.43, 77.87]).range([P.l, P.r]);
const y = d3.scaleLinear().domain([-2.93, titles.length - 1 + 2.83]).range([P.t, P.b]);
const amp = d3.scaleLinear().domain([0, 10]).range([0, 10]);

// grid
const g = svg.append("g");
g.selectAll("line.minor").data(xMinorTicks).join("line")
  .attr("x1", d => x(d)).attr("x2", d => x(d)).attr("y1", P.t).attr("y2", P.b)
  .attr("stroke", "#b0b0b0").attr("stroke-width", 0.8).attr("stroke-dasharray", "1,2.5");
g.selectAll("line.major").data(xTicks).join("line")
  .attr("x1", d => x(d)).attr("x2", d => x(d)).attr("y1", P.t).attr("y2", P.b)
  .attr("stroke", "#b0b0b0").attr("stroke-width", 1.1);

// graphlets
const upArea = d3.area().x(d => x(d[0])).y0(0).y1(d => -amp(d[1])).curve(d3.curveLinear);
const downArea = d3.area().x(d => x(d[0])).y0(0).y1(d => amp(d[1])).curve(d3.curveLinear);

const rows = svg.append("g").selectAll("g").data(titles).join("g")
  .attr("transform", (d, i) => `translate(0,${y(i)})`);
rows.append("path").attr("d", (d, i) => meta[i].length ? downArea(meta[i]) : null)
  .attr("fill", seriesColors[1]).attr("fill-opacity", 0.95);
rows.append("path").attr("d", (d, i) => human[i].length ? upArea(human[i]) : null)
  .attr("fill", seriesColors[0]).attr("fill-opacity", 0.95);
rows.append("line")
  .attr("x1", x(lineStart)).attr("x2", (d, i) => x(lineEnd[i]))
  .attr("y1", 0).attr("y2", 0)
  .attr("stroke", "#2b7bba").attr("stroke-width", 1);

// publication line
svg.append("line").attr("x1", x(0)).attr("x2", x(0)).attr("y1", P.t).attr("y2", P.b)
  .attr("stroke", "#1f77b4").attr("stroke-width", 1.2);

// frame
svg.append("rect").attr("x", P.l).attr("y", P.t).attr("width", P.r - P.l).attr("height", P.b - P.t)
  .attr("fill", "none").attr("stroke", "#000").attr("stroke-width", 1.1);

// x axis
const xa = svg.append("g").attr("transform", `translate(0,${P.b})`);
xa.selectAll("line.t").data(xTicks).join("line")
  .attr("x1", d => x(d)).attr("x2", d => x(d)).attr("y1", 0).attr("y2", 4.9)
  .attr("stroke", "#000").attr("stroke-width", 1.1);
xa.selectAll("line.m").data(xMinorTicks).join("line")
  .attr("x1", d => x(d)).attr("x2", d => x(d)).attr("y1", 0).attr("y2", 2.8)
  .attr("stroke", "#000").attr("stroke-width", 0.8);
xa.selectAll("text").data(xTicks).join("text")
  .attr("x", d => x(d)).attr("y", 19.5).attr("text-anchor", "middle")
  .attr("font-size", "13.9px").text(d => d < 0 ? "\u2212" + Math.abs(d) : d);
svg.append("text").attr("x", (P.l + P.r) / 2).attr("y", 1276).attr("text-anchor", "middle")
  .attr("font-size", "13.9px").text(xLabel);

// y axis
const ya = svg.append("g");
ya.selectAll("line").data(titles).join("line")
  .attr("x1", P.l - 4.9).attr("x2", P.l).attr("y1", (d, i) => y(i)).attr("y2", (d, i) => y(i))
  .attr("stroke", "#000").attr("stroke-width", 1.1);
ya.selectAll("text").data(titles).join("text")
  .attr("x", P.l - 9).attr("y", (d, i) => y(i)).attr("dy", "0.35em")
  .attr("text-anchor", "end").attr("font-size", "9.72px").text(d => d);

// title
svg.append("text").attr("x", (P.l + P.r) / 2).attr("y", 24).attr("text-anchor", "middle")
  .attr("font-size", "16.67px").text(chartTitle);

// legend
const lg = svg.append("g");
lg.append("rect").attr("x", 1029.5).attr("y", 1162.5).attr("width", 235).attr("height", 66)
  .attr("rx", 3).attr("fill", "#fff").attr("fill-opacity", 0.8).attr("stroke", "#cccccc");
lg.append("text").attr("x", 1147).attr("y", 1179.5).attr("text-anchor", "middle")
  .attr("font-size", "13.9px").text(legendTitle);
seriesNames.forEach((n, k) => {
  lg.append("rect").attr("x", 1035).attr("y", 1189.5 + k * 21.5).attr("width", 28).attr("height", 9.7)
    .attr("fill", seriesColors[k]);
  lg.append("text").attr("x", 1075).attr("y", 1199 + k * 21.5).attr("font-size", "13.9px").text(n);
});
</script>
</body></html>
